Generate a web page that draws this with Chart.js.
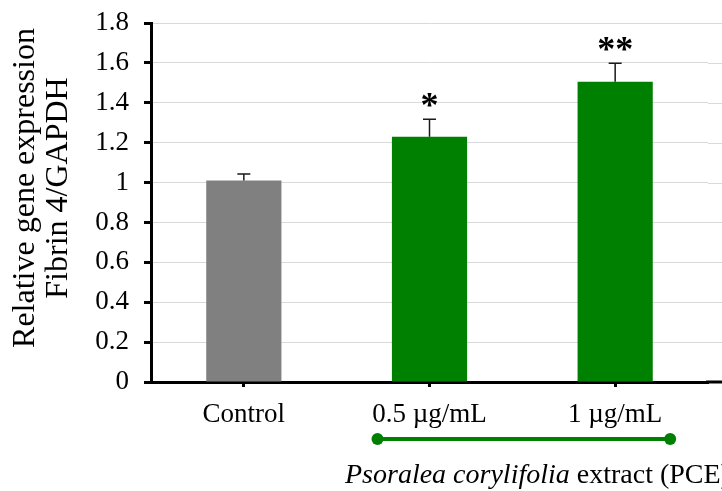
<!DOCTYPE html>
<html>
<head>
<meta charset="utf-8">
<script src="https://cdn.jsdelivr.net/npm/chart.js@4.4.1/dist/chart.umd.min.js"></script>
<style>
  html, body { margin: 0; padding: 0; background: #fff; }
  #wrap { width: 722px; height: 491px; }
</style>
</head>
<body>
<div id="wrap"><canvas id="barChart"></canvas></div>
<script>
const categories = ['Control', '0.5 µg/mL', '1 µg/mL'];
const expression = [1.01, 1.23, 1.505];
const errorUpper = [0.033, 0.088, 0.093];
const significance = ['', '*', '**'];
const barColors = ['#808080', '#008000', '#008000'];
const yTitle = ['Relative gene expression', 'Fibrin 4/GAPDH'];

const serif = '"Liberation Serif", "Times New Roman", serif';

// error bars, asterisks, grid/axis extension, y title and the PCE bracket
const extras = {
  id: 'extras',
  beforeDatasetsDraw(chart) {
    const { ctx, chartArea, scales: { y } } = chart;
    ctx.save();
    ctx.strokeStyle = '#d9d9d9';
    ctx.lineWidth = 1;
    y.ticks.forEach(t => {
      if (t.value === 0) return;
      const py = Math.round(y.getPixelForValue(t.value)) + 0.5;
      ctx.beginPath();
      ctx.moveTo(chartArea.right, py);
      ctx.lineTo(chart.width, py);
      ctx.stroke();
    });
    ctx.restore();
  },
  afterDatasetsDraw(chart) {
    const { ctx, chartArea, scales: { y } } = chart;
    ctx.save();
    // axis line to the right edge
    ctx.strokeStyle = '#000';
    ctx.lineWidth = 3;
    const by = y.getPixelForValue(0);
    ctx.beginPath();
    ctx.moveTo(chartArea.right - 2, by);
    ctx.lineTo(chart.width, by);
    ctx.stroke();

    chart.getDatasetMeta(0).data.forEach((bar, i) => {
      const top = y.getPixelForValue(expression[i]);
      const errTop = y.getPixelForValue(expression[i] + errorUpper[i]);
      ctx.strokeStyle = '#1a1a1a';
      ctx.lineWidth = 1.5;
      ctx.beginPath();
      ctx.moveTo(bar.x, top);
      ctx.lineTo(bar.x, errTop);
      ctx.moveTo(bar.x - 6.5, errTop);
      ctx.lineTo(bar.x + 6.5, errTop);
      ctx.stroke();
      if (significance[i]) {
        ctx.fillStyle = '#000';
        ctx.font = 'bold 36px ' + serif;
        ctx.textAlign = 'center';
        ctx.textBaseline = 'alphabetic';
        ctx.fillText(significance[i], bar.x, errTop - 2);
      }
    });
    ctx.restore();
  },
  afterDraw(chart) {
    const { ctx, scales: { x } } = chart;
    const x1 = x.getPixelForValue(1) - 52;
    const x2 = x.getPixelForValue(2) + 55;
    const ly = 439;
    ctx.save();
    ctx.strokeStyle = '#008000';
    ctx.fillStyle = '#008000';
    ctx.lineWidth = 4;
    ctx.beginPath();
    ctx.moveTo(x1, ly);
    ctx.lineTo(x2, ly);
    ctx.stroke();
    [x1, x2].forEach(px => {
      ctx.beginPath();
      ctx.arc(px, ly, 6, 0, Math.PI * 2);
      ctx.fill();
    });
    ctx.fillStyle = '#000';
    ctx.textBaseline = 'alphabetic';
    ctx.textAlign = 'left';
    let tx = 345;
    ctx.font = 'italic 28px ' + serif;
    const it = 'Psoralea corylifolia';
    ctx.fillText(it, tx, 483);
    tx += ctx.measureText(it).width;
    ctx.font = '28px ' + serif;
    ctx.fillText(' extract (PCE)', tx, 483);

    // y axis title, two rotated lines
    ctx.font = '32px ' + serif;
    ctx.textAlign = 'center';
    ctx.textBaseline = 'alphabetic';
    yTitle.forEach((line, i) => {
      ctx.save();
      ctx.translate(34 + i * 33, 188);
      ctx.rotate(-Math.PI / 2);
      ctx.fillText(line, 0, 0);
      ctx.restore();
    });
    ctx.restore();
  }
};

const ctx = document.getElementById('barChart').getContext('2d');
const barChart = new Chart(ctx, {
  type: 'bar',
  data: {
    labels: categories,
    datasets: [
      {
        label: 'Fibrin 4/GAPDH',
        data: expression,
        backgroundColor: barColors,
        borderWidth: 0,
        categoryPercentage: 1,
        barPercentage: 0.405
      }
    ]
  },
  options: {
    responsive: true,
    maintainAspectRatio: false,
    animation: false,
    layout: { padding: { top: 23, right: 14, left: 0, bottom: 0 } },
    plugins: {
      legend: { display: false },
      tooltip: { enabled: false }
    },
    scales: {
      x: {
        grid: {
          offset: false,
          drawOnChartArea: false,
          tickLength: 5,
          tickWidth: 3,
          tickColor: '#000'
        },
        border: { color: '#000', width: 3 },
        ticks: {
          color: '#000',
          padding: 12,
          font: { family: serif, size: 27 }
        },
        afterFit(scale) { scale.height = 109; }
      },
      y: {
        min: 0,
        max: 1.8,
        grid: {
          color: '#d9d9d9',
          lineWidth: 1,
          tickLength: 7,
          tickWidth: 3,
          tickColor: '#000'
        },
        border: { color: '#000', width: 3 },
        ticks: {
          stepSize: 0.2,
          color: '#000',
          padding: 15,
          font: { family: serif, size: 27 },
          callback: v => String(+v.toFixed(1))
        },
        afterFit(scale) {
          scale.width = 151;
          scale.paddingTop = 0;
          scale.paddingBottom = 0;
        }
      }
    }
  },
  plugins: [extras]
});
</script>
</body>
</html>
